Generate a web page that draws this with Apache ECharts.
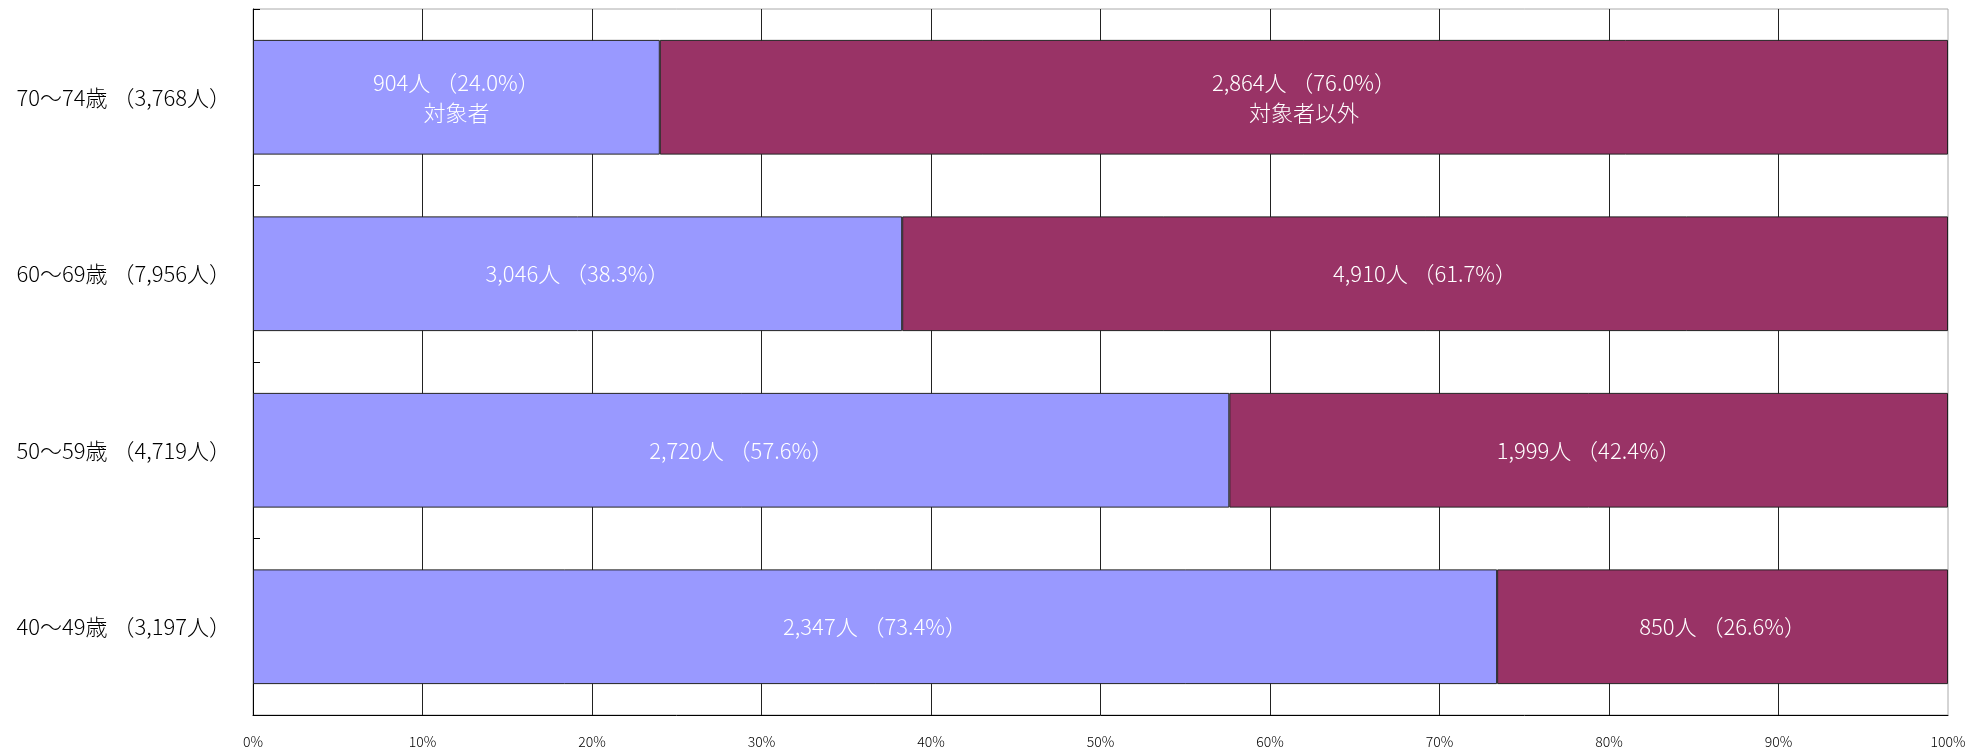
<!DOCTYPE html>
<html>
<head>
<meta charset="utf-8">
<script src="https://cdn.jsdelivr.net/npm/echarts@6/dist/echarts.min.js"></script>
<style>
html,body{margin:0;padding:0;background:#fff;}
#chart{width:1986px;height:750px;}
</style>
</head>
<body>
<div id="chart"></div>
<script>
// categories from bottom to top
var categories = ['40～49歳 （3,197人）', '50～59歳 （4,719人）', '60～69歳 （7,956人）', '70～74歳 （3,768人）'];
var targetCount = [2347, 2720, 3046, 904];
var targetPct = [73.4, 57.6, 38.3, 24.0];
var otherCount = [850, 1999, 4910, 2864];
var otherPct = [26.6, 42.4, 61.7, 76.0];
var seriesNames = ['対象者', '対象者以外'];
var xTicks = [0, 10, 20, 30, 40, 50, 60, 70, 80, 90, 100];

function fmt(n){ return n.toLocaleString('en-US'); }

var FONT = '"Noto Sans CJK JP", "Noto Sans", sans-serif';
var chart = echarts.init(document.getElementById('chart'));

function labelFor(counts, pcts, name){
  return function(p){
    var i = p.dataIndex;
    var s = fmt(counts[i]) + '人 （' + pcts[i].toFixed(1) + '%）';
    if (i === categories.length - 1) s += '\n' + name;
    return s;
  };
}

chart.setOption({
  backgroundColor: '#fff',
  animation: false,
  grid: {left: 253, right: 38, top: 9, bottom: 35, show: true, borderColor: '#aaa', borderWidth: 1},
  xAxis: {
    type: 'value', min: xTicks[0], max: xTicks[xTicks.length - 1], interval: 10,
    axisLine: {show: true, lineStyle: {color: '#000', width: 1}},
    axisTick: {show: false},
    axisLabel: {formatter: '{value}%', color: '#000', fontSize: 14, fontWeight: 300, fontFamily: FONT, margin: 20},
    splitLine: {show: true, showMinLine: false, showMaxLine: false, lineStyle: {color: '#222', width: 1}}
  },
  yAxis: {
    type: 'category', data: categories,
    axisLine: {show: true, lineStyle: {color: '#000', width: 1}},
    axisTick: {show: true, inside: true, length: 7, lineStyle: {color: '#000'}},
    axisLabel: {color: '#000', fontSize: 22, fontWeight: 300, fontFamily: FONT, margin: 22},
    splitLine: {show: false}
  },
  series: [
    {
      name: seriesNames[0], type: 'bar', stack: 'a', data: targetPct,
      barCategoryGap: '35%',
      itemStyle: {color: '#9999FF', borderColor: '#222', borderWidth: 1},
      label: {show: true, position: 'inside', color: '#fff', fontSize: 22, fontWeight: 300, lineHeight: 30, fontFamily: FONT,
              formatter: labelFor(targetCount, targetPct, seriesNames[0])}
    },
    {
      name: seriesNames[1], type: 'bar', stack: 'a', data: otherPct,
      barCategoryGap: '35%',
      itemStyle: {color: '#993366', borderColor: '#222', borderWidth: 1},
      label: {show: true, position: 'inside', color: '#fff', fontSize: 22, fontWeight: 300, lineHeight: 30, fontFamily: FONT,
              formatter: labelFor(otherCount, otherPct, seriesNames[1])}
    }
  ]
});
</script>
</body>
</html>
